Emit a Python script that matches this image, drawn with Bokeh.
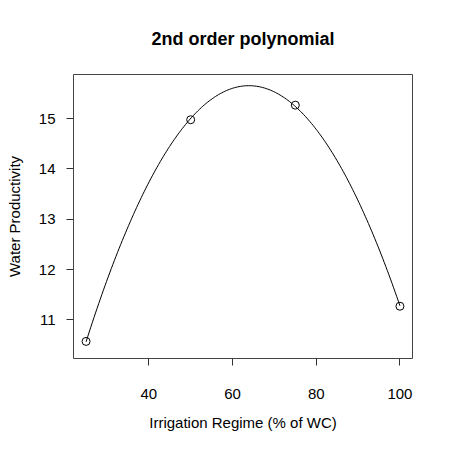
import numpy as np
from bokeh.plotting import figure
from bokeh.models import FixedTicker, Range1d
from bokeh.embed import file_html
from bokeh.resources import INLINE

# Data
irrigation = [25, 50, 75, 100]
productivity = [10.57, 14.98, 15.27, 11.27]
x_ticks = [40, 60, 80, 100]
y_ticks = [11, 12, 13, 14, 15]
title_text = "2nd order polynomial"
x_label = "Irrigation Regime (% of WC)"
y_label = "Water Productivity"

# 2nd order polynomial fit of the data (the curve of the chart)
coef = np.polyfit(irrigation, productivity, 2)
xs = np.linspace(min(irrigation), max(irrigation), 200)
ys = np.polyval(coef, xs)

FONT = "Liberation Sans"

p = figure(width=442, height=442, output_backend="svg", toolbar_location=None,
           x_range=Range1d(22, 103), y_range=Range1d(10.23, 15.88),
           min_border_left=73, min_border_right=30,
           min_border_top=73, min_border_bottom=84)

p.title.text = title_text
p.title.align = "center"
p.title.text_font = FONT
p.title.text_font_size = "18px"
p.title.text_font_style = "bold"
p.title.text_color = "black"
p.title.standoff = 52

p.line(xs, ys, line_color="black", line_width=1)
p.scatter(irrigation, productivity, marker="circle", size=8,
          fill_color=None, line_color="black", line_width=1)

p.xgrid.visible = False
p.ygrid.visible = False
p.outline_line_color = "#444444"
p.outline_line_width = 1
p.background_fill_color = "white"
p.border_fill_color = "white"

for ax, ticks in ((p.xaxis, x_ticks), (p.yaxis, y_ticks)):
    ax.ticker = FixedTicker(ticks=ticks)
    ax.axis_line_color = None
    ax.minor_tick_line_color = None
    ax.major_tick_in = 0
    ax.major_tick_out = 7
    ax.major_tick_line_color = "#333333"
    ax.major_label_text_font = FONT
    ax.major_label_text_font_size = "15px"
    ax.major_label_text_color = "black"
    ax.axis_label_text_font = FONT
    ax.axis_label_text_font_size = "15px"
    ax.axis_label_text_font_style = "normal"
    ax.axis_label_text_color = "black"

p.xaxis.axis_label = x_label
p.yaxis.axis_label = y_label
p.xaxis.major_label_standoff = 23
p.xaxis.axis_label_standoff = 12
p.yaxis.major_label_standoff = 11
p.yaxis.major_label_orientation = "horizontal"
p.yaxis.axis_label_standoff = 13

open("out.html", "w").write(file_html(p, INLINE))
